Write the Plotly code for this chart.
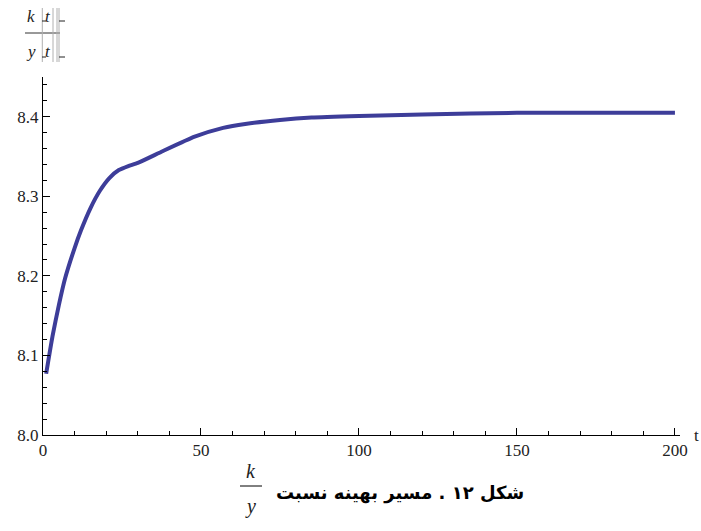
import plotly.graph_objects as go

# Data (optimal path of k/y)
t_values = [1, 3, 5, 7, 10, 12, 15, 18, 21, 24, 27, 30, 38, 48, 57, 64, 75, 85, 100, 120, 150, 200]
ratio_values = [8.077, 8.124, 8.163, 8.197, 8.235, 8.257, 8.285, 8.307, 8.323, 8.333, 8.338, 8.342,
                8.357, 8.375, 8.386, 8.391, 8.396, 8.399, 8.401, 8.403, 8.405, 8.405]
x_tick_vals = [0, 50, 100, 150, 200]
y_tick_vals = [8.0, 8.1, 8.2, 8.3, 8.4]
caption_text = "شکل ۱۲ . مسیر بهینه نسبت"

W, H = 701, 531
ML, MR, MT, MB = 43, 21, 77, 96
PW, PH = W - ML - MR, H - MT - MB


def px(x):
    return (x - ML) / PW


def py(y):
    return (H - MB - y) / PH


fig = go.Figure()
fig.add_trace(go.Scatter(
    x=t_values, y=ratio_values, mode="lines",
    line=dict(color="#3d3d99", width=4, shape="spline", smoothing=0.5),
    hoverinfo="skip", showlegend=False,
))

serif = "Liberation Serif"
tickfont = dict(family=serif, size=17, color="#222")

fig.update_layout(
    width=W, height=H,
    margin=dict(l=ML, r=MR, t=MT, b=MB),
    paper_bgcolor="white", plot_bgcolor="white",
    font=dict(family=serif, size=17, color="#222"),
    xaxis=dict(
        range=[0, 201.6], showgrid=False, zeroline=False,
        showline=True, linecolor="black", linewidth=1,
        ticks="inside", ticklen=7, tickcolor="black", tickfont=tickfont,
        tickvals=x_tick_vals, ticktext=[str(v) for v in x_tick_vals],
        minor=dict(ticks="inside", ticklen=4, dtick=10, tick0=0, tickcolor="black", showgrid=False),
    ),
    yaxis=dict(
        range=[8.0, 8.45], showgrid=False, zeroline=False,
        showline=True, linecolor="black", linewidth=1,
        ticks="inside", ticklen=7, tickcolor="black", tickfont=tickfont,
        tickvals=y_tick_vals, ticktext=["%.1f" % v for v in y_tick_vals],
        minor=dict(ticks="inside", ticklen=4, dtick=0.02, tick0=8.0, tickcolor="black", showgrid=False),
    ),
)


def ann(text, x, y, font):
    return dict(x=px(x), y=py(y), xref="paper", yref="paper", text=text, showarrow=False,
                xanchor="center", yanchor="middle", font=font)


annotations = []
# x-axis label "t"
annotations.append(ann("t", 696, 435, dict(family=serif, size=17, color="#222")))

# top-left label k[t]/y[t]
for txt, xx, yy in [("k", 31, 16), ("t", 48, 16), ("y", 31, 51), ("t", 48, 51)]:
    annotations.append(ann("<i>%s</i>" % txt, xx, yy, dict(family=serif, size=17, color="#222")))

# caption
annotations.append(ann("<b>%s</b>" % caption_text, 400, 493,
                       dict(family="DejaVu Sans", size=18, color="black")))
annotations.append(ann("<i>k</i>", 251, 471, dict(family=serif, size=20, color="#222")))
annotations.append(ann("<i>y</i>", 251, 506, dict(family=serif, size=20, color="#222")))

shapes = []
# caption fraction bar
shapes.append(dict(type="line", xref="paper", yref="paper", x0=px(240), x1=px(262), y0=py(486), y1=py(486),
                   line=dict(color="black", width=1)))
# top-left fraction bar
shapes.append(dict(type="line", xref="paper", yref="paper", x0=px(25), x1=px(60), y0=py(33), y1=py(33),
                   line=dict(color="#333", width=1)))
# gray vertical box lines
for xx in [42.3, 53, 57, 59]:
    shapes.append(dict(type="line", xref="paper", yref="paper", x0=px(xx), x1=px(xx), y0=py(8), y1=py(62),
                       line=dict(color="#b0b0b0", width=1)))
# small underscore marks
for yy in [21, 57]:
    for x0, x1 in [(42, 46), (59, 65)]:
        shapes.append(dict(type="line", xref="paper", yref="paper", x0=px(x0), x1=px(x1), y0=py(yy), y1=py(yy),
                           line=dict(color="#222", width=1)))

fig.update_layout(annotations=annotations, shapes=shapes)
fig.write_html("out.html", config={"displayModeBar": False},
               post_script="document.body.style.margin='0';")
